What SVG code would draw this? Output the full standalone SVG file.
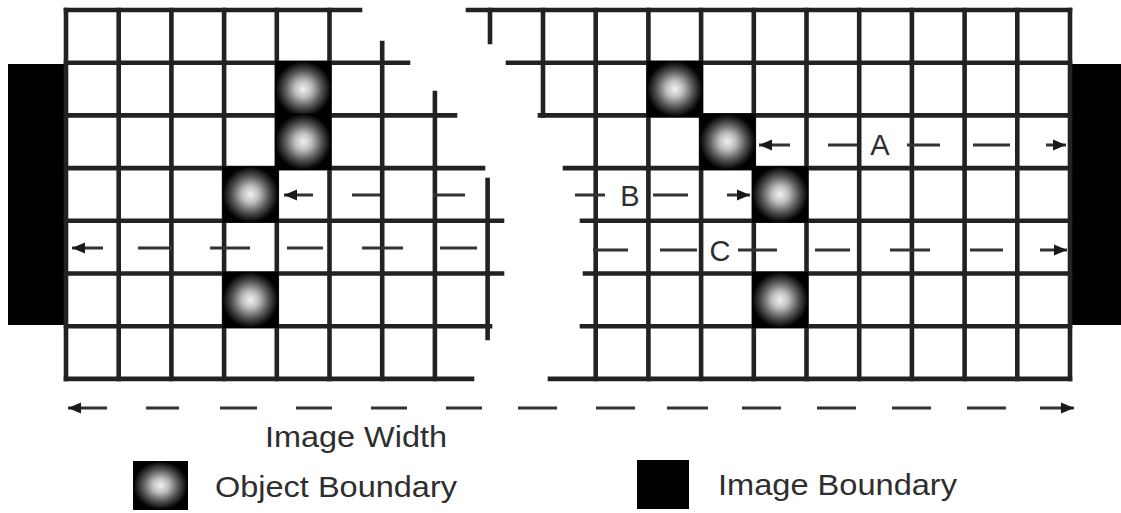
<svg xmlns="http://www.w3.org/2000/svg" width="1121" height="513" viewBox="0 0 1121 513">
<style>
.g{stroke:#222;stroke-width:4.6;stroke-linecap:square;fill:none}
.d{stroke:#333;stroke-width:2.8;fill:none;marker-start:url(#ah);marker-end:url(#ah)}
.ds{stroke:#333;stroke-width:2.8;fill:none;marker-start:url(#ah)}
.de{stroke:#333;stroke-width:2.8;fill:none;marker-end:url(#ah)}
.obj{fill:url(#og)}
.blk{fill:#000}
.t{font-family:"Liberation Sans",Arial,sans-serif;fill:#2e2e2e}
</style>
<defs>
<radialGradient id="og" cx="50%" cy="50%" r="50%">
<stop offset="0%" stop-color="#f2f2f2"/>
<stop offset="30%" stop-color="#bdbdbd"/>
<stop offset="65%" stop-color="#555"/>
<stop offset="92%" stop-color="#111"/>
<stop offset="100%" stop-color="#000"/>
</radialGradient>
<marker id="ah" markerUnits="userSpaceOnUse" markerWidth="14" markerHeight="12" refX="13" refY="6" orient="auto-start-reverse">
<path d="M0,0.5 L13,6 L0,11.5 z" fill="#1a1a1a"/>
</marker>
</defs>

<g id="image-boundary-left"><rect class="blk" x="8" y="64" width="58" height="261"/></g>
<g id="image-boundary-right"><rect class="blk" x="1070" y="64" width="51" height="261"/></g>

<g id="left-grid">
<path class="g" d="M66,10V378.9 M118.7,10V378.9 M171.4,10V378.9 M224.1,10V378.9 M276.8,10V378.9 M329.5,10V378.9 M382.2,43V378.9 M434.9,93V378.9 M487.6,180V338"/>
<path class="g" d="M66,10H360 M66,62.7H408 M66,115.4H455 M66,168.1H483 M66,220.8H502 M66,273.5H502 M66,326.2H490 M66,378.9H472"/>
</g>

<g id="right-grid">
<path class="g" d="M490,10V42 M543,10V115.4 M595.7,10V378.9 M648.4,10V378.9 M701.1,10V378.9 M753.8,10V378.9 M806.5,10V378.9 M859.2,10V378.9 M911.9,10V378.9 M964.6,10V378.9 M1017.3,10V378.9 M1070,10V378.9"/>
<path class="g" d="M468,10H1070 M508,62.7H1070 M540,115.4H1070 M565,168.1H1070 M582,220.8H1070 M585,273.5H1070 M582,326.2H1070 M550,378.9H1070"/>
</g>

<g id="left-objects">
<rect class="obj" x="275" y="61" width="56.5" height="56"/>
<rect class="obj" x="275" y="113.5" width="56.5" height="56.5"/>
<rect class="obj" x="222.3" y="166.3" width="56.3" height="56.3"/>
<rect class="obj" x="222.3" y="271.7" width="56.3" height="56.3"/>
</g>

<g id="right-objects">
<rect class="obj" x="646.6" y="60.9" width="56.3" height="56.3"/>
<rect class="obj" x="699.3" y="113.6" width="56.3" height="56.3"/>
<rect class="obj" x="752" y="166.3" width="56.3" height="56.3"/>
<rect class="obj" x="752" y="271.7" width="56.3" height="56.3"/>
</g>

<g id="connectors">
<path class="ds" d="M284,195H313 M352,195H380 M433,195H465"/>
<path class="ds" d="M72,248H103 M138,248H172 M210,248H250 M287,248H323 M362,248H403 M440,248H477"/>
<path class="d" d="M759,145H790 M828,145H857 M907,145H940 M973,145H1010 M1046,145H1066"/>
<path class="de" d="M575,195H605 M653,195H688 M727,195H750"/>
<path class="de" d="M593,250H628 M660,250H697 M738,250H777 M815,250H850 M890,250H930 M970,250H1003 M1040,250H1067"/>
<path class="d" d="M68,408H107 M146,408H179 M220,408H257 M296,408H332 M371,408H407 M446,408H482 M518,408H557 M596,408H635 M667,408H708 M742,408H781 M817,408H856 M892,408H931 M967,408H1006 M1040,408H1074"/>
</g>

<g id="labels">
<text class="t" x="880" y="155" font-size="29" text-anchor="middle">A</text>
<text class="t" x="630" y="206" font-size="29" text-anchor="middle">B</text>
<text class="t" x="720" y="261" font-size="29" text-anchor="middle">C</text>
<text class="t" x="265" y="447" font-size="30" textLength="182" lengthAdjust="spacingAndGlyphs">Image Width</text>
</g>

<g id="legend-object">
<rect class="obj" x="133" y="461" width="55" height="49"/>
<text class="t" x="215" y="497" font-size="30" textLength="242" lengthAdjust="spacingAndGlyphs">Object Boundary</text>
</g>
<g id="legend-image">
<rect class="blk" x="637" y="460" width="52" height="49"/>
<text class="t" x="718" y="495" font-size="30" textLength="239" lengthAdjust="spacingAndGlyphs">Image Boundary</text>
</g>
</svg>
